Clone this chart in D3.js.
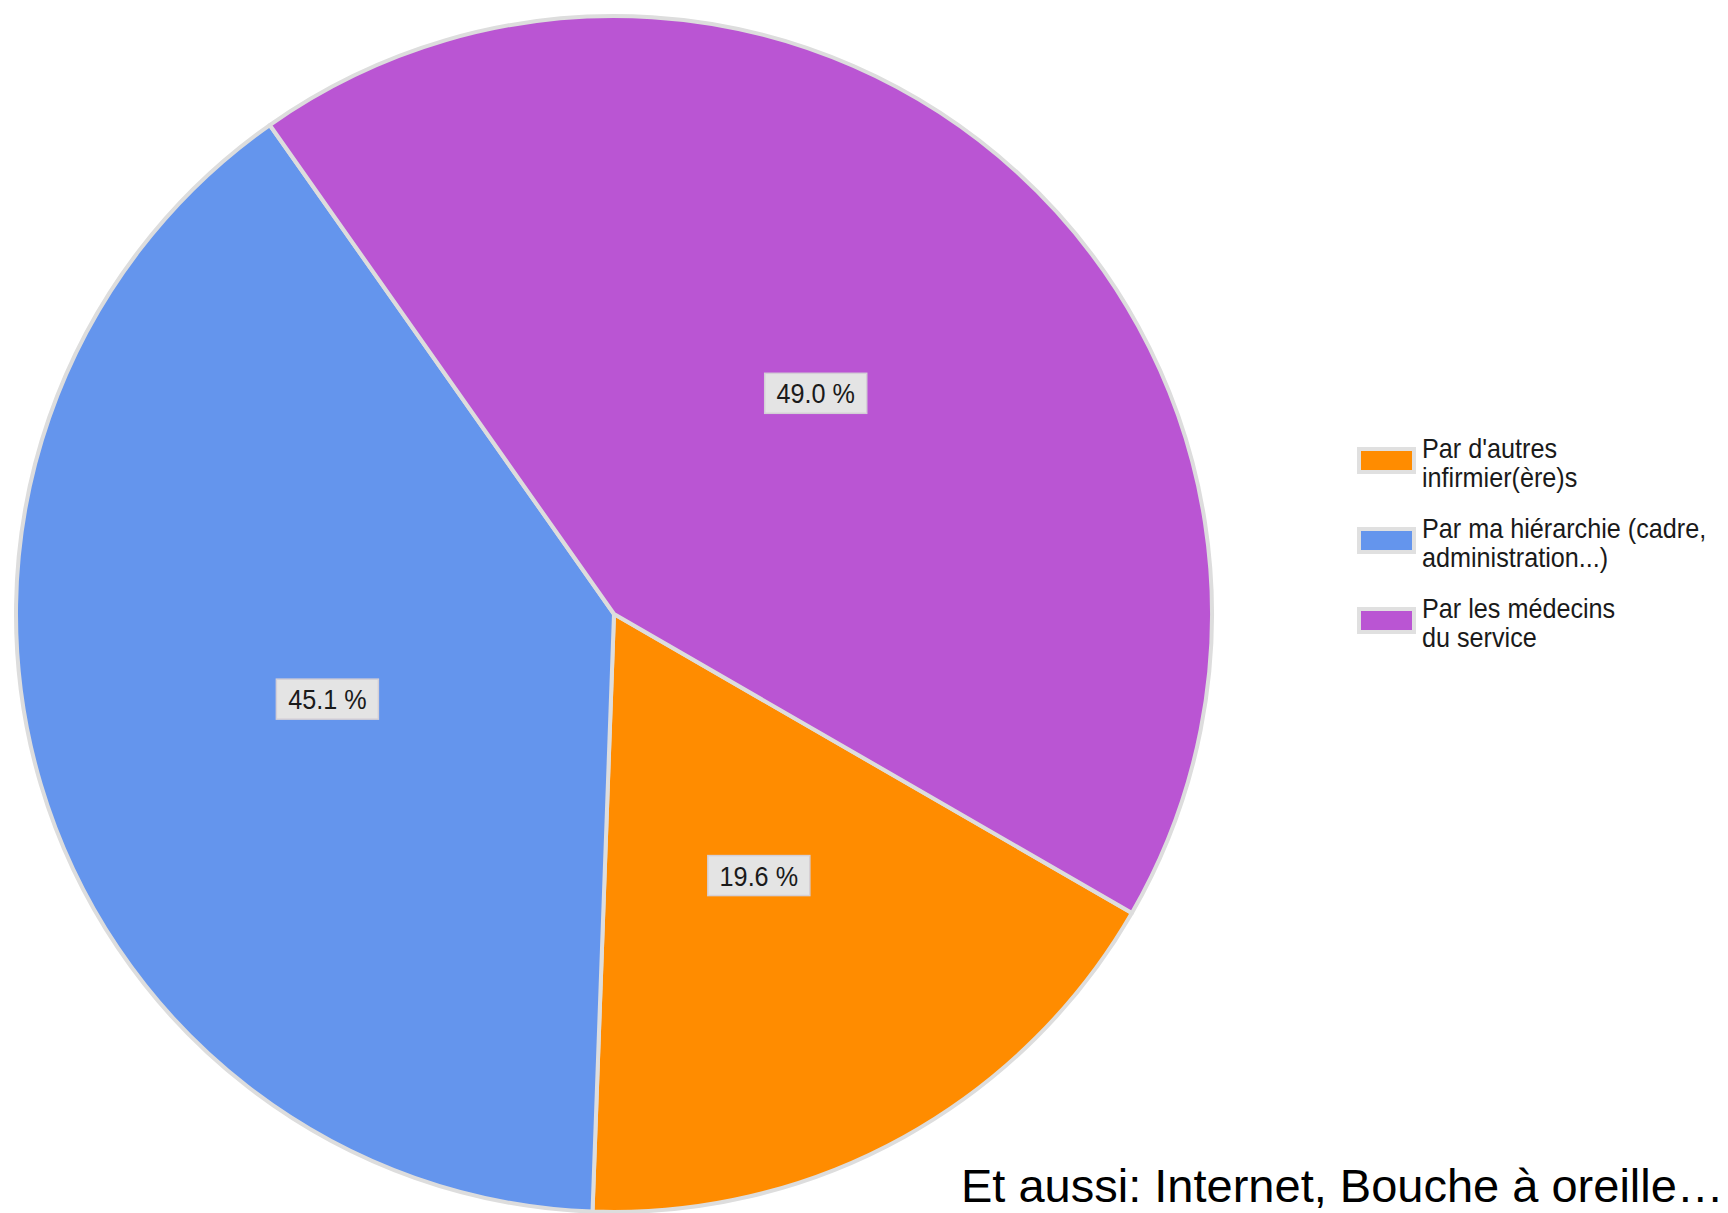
<!DOCTYPE html>
<html>
<head>
<meta charset="utf-8">
<script src="https://cdn.jsdelivr.net/npm/d3@7"></script>
<style>
  html, body { margin: 0; padding: 0; background: #ffffff; }
  svg { display: block; }
</style>
</head>
<body>
<svg id="chart" width="1728" height="1213"></svg>
<script>
// ---- Data ----
const categories = ["Par d'autres infirmier(ère)s", "Par ma hiérarchie (cadre, administration...)", "Par les médecins du service"];
const legendLines = [["Par d'autres", "infirmier(ère)s"], ["Par ma hiérarchie (cadre,", "administration...)"], ["Par les médecins", "du service"]];
const values = [19.6, 45.1, 49.0];
const colors = ["#FF8C00", "#6495ED", "#BA55D3"];
const footnote = "Et aussi: Internet, Bouche à oreille…";

// ---- Layout ----
const W = 1728, H = 1213;
const cx = 614, cy = 614, R = 598;
const svg = d3.select("#chart");

const data = categories.map((c, i) => ({ name: c, value: values[i], color: colors[i], lines: legendLines[i] }));

const pie = d3.pie().value(d => d.value).sort(null)
  .startAngle(120 * Math.PI / 180)
  .endAngle(480 * Math.PI / 180);
const arcs = pie(data);
const arc = d3.arc().innerRadius(0).outerRadius(R);

const g = svg.append("g").attr("transform", `translate(${cx},${cy})`);

g.selectAll("path.slice").data(arcs).enter().append("path")
  .attr("class", "slice")
  .attr("d", arc)
  .attr("fill", d => d.data.color)
  .attr("stroke", "#dddddd")
  .attr("stroke-width", 4)
  .attr("stroke-linejoin", "round");

// labels
const fmt = v => v.toFixed(1) + " %";
const lab = g.selectAll("g.lab").data(arcs).enter().append("g")
  .attr("class", "lab")
  .attr("transform", d => { const c = arc.centroid(d); return `translate(${c[0]},${c[1]})`; });
lab.append("rect")
  .attr("x", -51).attr("y", -20).attr("width", 102).attr("height", 40)
  .attr("fill", "#e4e4e4").attr("stroke", "#d4cfd6").attr("stroke-width", 1.5);
lab.append("text")
  .attr("transform", "scale(0.9,1)")
  .attr("text-anchor", "middle")
  .attr("y", 10)
  .attr("font-family", "Liberation Sans, Arial, sans-serif")
  .attr("font-size", 28)
  .attr("fill", "#1a1a1a")
  .text(d => fmt(d.data.value));

// legend
const lg = svg.append("g").attr("transform", "translate(1357,447)");
const item = lg.selectAll("g.item").data(data).enter().append("g")
  .attr("class", "item")
  .attr("transform", (d, i) => `translate(0,${i * 80})`);
item.append("rect").attr("x", 0).attr("y", 0).attr("width", 59).attr("height", 27).attr("fill", "#e0e0e0");
item.append("rect").attr("x", 4).attr("y", 4).attr("width", 51).attr("height", 19).attr("fill", d => d.color);
item.each(function(d) {
  const t = d3.select(this).append("text")
    .attr("transform", "translate(65,0) scale(0.9,1)")
    .attr("font-family", "Liberation Sans, Arial, sans-serif")
    .attr("font-size", 28)
    .attr("fill", "#1a1a1a");
  d.lines.forEach((ln, k) => {
    t.append("tspan").attr("x", 0).attr("y", 11 + k * 29).text(ln);
  });
});

// footnote
svg.append("text")
  .attr("x", 961).attr("y", 1202)
  .attr("font-family", "Liberation Sans, Arial, sans-serif")
  .attr("font-size", 47)
  .attr("fill", "#000000")
  .text(footnote);
</script>
</body>
</html>
